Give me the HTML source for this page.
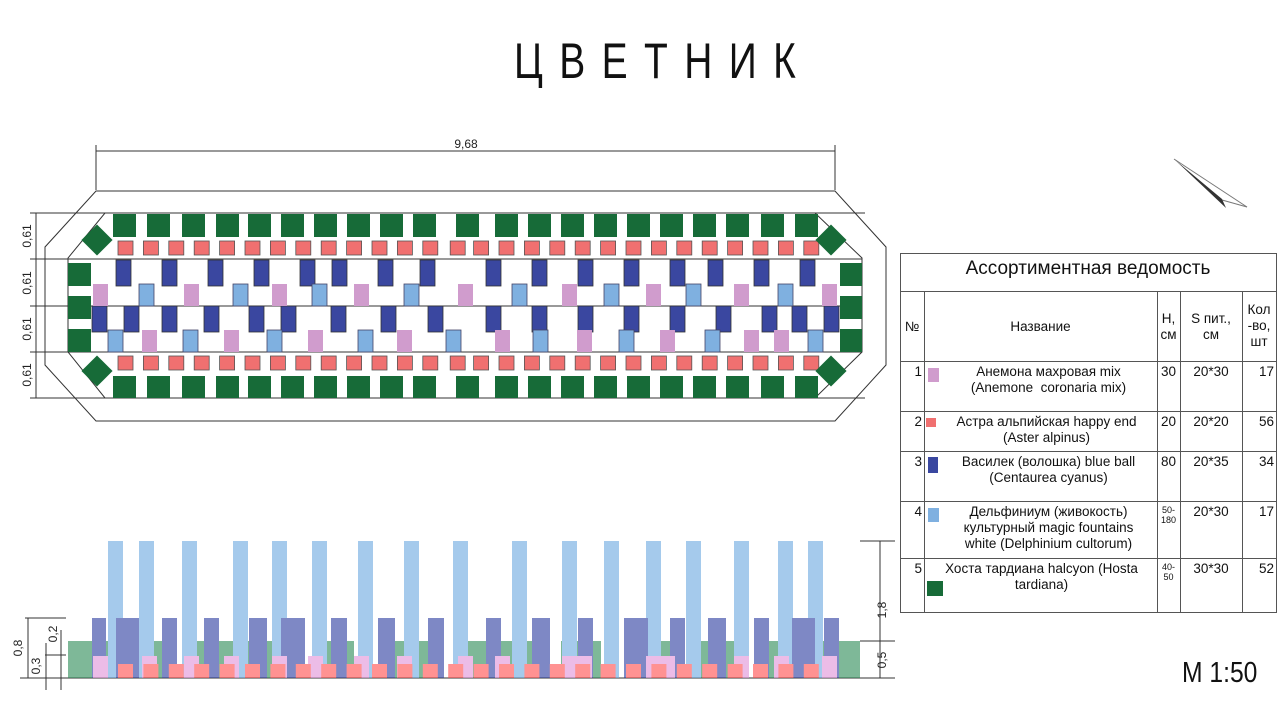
<!DOCTYPE html>
<html><head><meta charset="utf-8"><style>
body{margin:0;width:1280px;height:720px;background:#fff;overflow:hidden;font-family:"Liberation Sans",sans-serif;position:relative}
.t{position:absolute;font-family:"Liberation Sans","Noto Sans CJK SC",sans-serif;color:#111}
.c{position:absolute;font-size:13.5px;text-align:center;line-height:16px;color:#111}
</style></head><body>
<svg id="s" width="1280" height="720" style="position:absolute;left:0;top:0">
<g stroke="#333" stroke-width="1" fill="none">
<polygon points="96,191 835,191 886,247 886,365 835,421 96,421 45,365 45,247"/>
<polygon points="105,213 815,213 862,258 862,352 815,398 105,398 68,352 68,258"/>
<line x1="30" y1="213" x2="105" y2="213"/><line x1="30" y1="259" x2="862" y2="259"/>
<line x1="30" y1="306" x2="862" y2="306"/><line x1="30" y1="352" x2="862" y2="352"/>
<line x1="30" y1="398" x2="105" y2="398"/>
<line x1="815" y1="213" x2="865" y2="213"/><line x1="815" y1="398" x2="865" y2="398"/>
<line x1="36" y1="213" x2="36" y2="398"/>
<line x1="96" y1="151" x2="835" y2="151"/><line x1="96" y1="145" x2="96" y2="190"/><line x1="835" y1="145" x2="835" y2="190"/>
<line x1="860" y1="541" x2="895" y2="541"/><line x1="860" y1="641" x2="895" y2="641"/><line x1="860" y1="678" x2="895" y2="678"/>
<line x1="880" y1="541" x2="880" y2="678"/>
<line x1="25" y1="618" x2="66" y2="618"/><line x1="45" y1="655" x2="66" y2="655"/><line x1="20" y1="678" x2="895" y2="678"/>
<line x1="28" y1="618" x2="28" y2="678"/><line x1="46" y1="643" x2="46" y2="690"/><line x1="61" y1="630" x2="61" y2="690"/>
<line x1="1174" y1="159" x2="1247" y2="207" stroke="#777"/>
<line x1="1222" y1="200" x2="1247" y2="207" stroke="#777"/>
</g>
<polygon points="1174,159 1222,199 1226,208" fill="#333"/>
<g id="plan"></g><g id="elev" opacity="0.6"></g>
<g font-family="Liberation Sans" font-size="12" fill="#222">
<text x="466" y="148" text-anchor="middle">9,68</text>
<text transform="translate(31,236) rotate(-90)" text-anchor="middle">0,61</text>
<text transform="translate(31,283) rotate(-90)" text-anchor="middle">0,61</text>
<text transform="translate(31,329) rotate(-90)" text-anchor="middle">0,61</text>
<text transform="translate(31,375) rotate(-90)" text-anchor="middle">0,61</text>
<text transform="translate(22,648) rotate(-90)" text-anchor="middle">0,8</text>
<text transform="translate(40,666) rotate(-90)" text-anchor="middle">0,3</text>
<text transform="translate(57,634) rotate(-90)" text-anchor="middle">0,2</text>
<text transform="translate(886,610) rotate(-90)" text-anchor="middle">1,8</text>
<text transform="translate(886,660) rotate(-90)" text-anchor="middle">0,5</text>
</g>
</svg>
<div class="t" style="left:514px;top:32px;font-size:50px;letter-spacing:21px;font-weight:300;transform:scaleX(0.78);transform-origin:left">ЦВЕТНИК</div>
<div class="t" style="left:1182px;top:657px;font-size:29px;transform:scaleX(0.85);transform-origin:left">M 1:50</div>
<svg width="1280" height="720" style="position:absolute;left:0;top:0">
<g stroke="#555" stroke-width="1" fill="none">
<rect x="900.5" y="253.5" width="376" height="359"/>
<line x1="900" y1="291.5" x2="1276" y2="291.5"/><line x1="900" y1="361.5" x2="1276" y2="361.5"/>
<line x1="900" y1="411.5" x2="1276" y2="411.5"/><line x1="900" y1="451.5" x2="1276" y2="451.5"/>
<line x1="900" y1="501.5" x2="1276" y2="501.5"/><line x1="900" y1="558.5" x2="1276" y2="558.5"/>
<line x1="924.5" y1="291" x2="924.5" y2="612"/><line x1="1157.5" y1="291" x2="1157.5" y2="612"/>
<line x1="1180.5" y1="291" x2="1180.5" y2="612"/><line x1="1242.5" y1="291" x2="1242.5" y2="612"/>
</g>
<rect x="928" y="368" width="11" height="14" fill="#d09ccd"/>
<rect x="926" y="418" width="10" height="9" fill="#f07070"/>
<rect x="928" y="457" width="10" height="16" fill="#3a47a0"/>
<rect x="928" y="508" width="11" height="14" fill="#7fb0e0"/>
<rect x="927" y="581" width="16" height="15" fill="#176b38"/>
</svg>
<div class="c" style="left:900px;top:261px;width:376px;font-size:19px">Ассортиментная ведомость</div>
<div class="c" style="left:900px;top:319px;width:24px">№</div>
<div class="c" style="left:924px;top:319px;width:233px">Название</div>
<div class="c" style="left:1157px;top:311px;width:23px">Н,<br>см</div>
<div class="c" style="left:1180px;top:311px;width:62px">S пит.,<br>см</div>
<div class="c" style="left:1242px;top:302px;width:34px">Кол<br>-во,<br>шт</div>
<div class="c" style="left:900px;top:364px;width:22px;text-align:right">1</div>
<div class="c" style="left:938px;top:364px;width:221px">Анемона махровая mix<br>(Anemone&nbsp; coronaria mix)</div>
<div class="c" style="left:1157px;top:364px;width:23px">30</div><div class="c" style="left:1180px;top:364px;width:62px">20*30</div><div class="c" style="left:1242px;top:364px;width:32px;text-align:right">17</div>
<div class="c" style="left:900px;top:414px;width:22px;text-align:right">2</div>
<div class="c" style="left:936px;top:414px;width:221px">Астра альпийская happy end<br>(Aster alpinus)</div>
<div class="c" style="left:1157px;top:414px;width:23px">20</div><div class="c" style="left:1180px;top:414px;width:62px">20*20</div><div class="c" style="left:1242px;top:414px;width:32px;text-align:right">56</div>
<div class="c" style="left:938px;top:454px;width:221px">Василек (волошка) blue ball<br>(Centaurea cyanus)</div>
<div class="c" style="left:900px;top:454px;width:22px;text-align:right">3</div>
<div class="c" style="left:1157px;top:454px;width:23px">80</div><div class="c" style="left:1180px;top:454px;width:62px">20*35</div><div class="c" style="left:1242px;top:454px;width:32px;text-align:right">34</div>
<div class="c" style="left:900px;top:504px;width:22px;text-align:right">4</div>
<div class="c" style="left:938px;top:504px;width:221px">Дельфиниум (живокость)<br>культурный magic fountains<br>white (Delphinium cultorum)</div>
<div class="c" style="left:1157px;top:505px;width:23px;font-size:9px;line-height:10px">50-<br>180</div><div class="c" style="left:1180px;top:504px;width:62px">20*30</div><div class="c" style="left:1242px;top:504px;width:32px;text-align:right">17</div>
<div class="c" style="left:900px;top:561px;width:22px;text-align:right">5</div>
<div class="c" style="left:926px;top:561px;width:231px">Хоста тардиана halcyon (Hosta<br>tardiana)</div>
<div class="c" style="left:1157px;top:562px;width:23px;font-size:9px;line-height:10px">40-<br>50</div><div class="c" style="left:1180px;top:561px;width:62px">30*30</div><div class="c" style="left:1242px;top:561px;width:32px;text-align:right">52</div>
<script>
const NS="http://www.w3.org/2000/svg";
function R(g,x,y,w,h,f,st,extra){const r=document.createElementNS(NS,"rect");r.setAttribute("x",x);r.setAttribute("y",y);r.setAttribute("width",w);r.setAttribute("height",h);r.setAttribute("fill",f);if(st){r.setAttribute("stroke",st);r.setAttribute("stroke-width","0.8");}if(extra)r.setAttribute("transform",extra);g.appendChild(r);}
const P=document.getElementById("plan"),E=document.getElementById("elev");
const G="#176b38",RD="#f07070",DB="#3a47a0",LB="#7fb0e0",PK="#d09ccd";
const gx=[113,147,182,216,248,281,314,347,380,413,456,495,528,561,594,627,660,693,726,761,795];
gx.forEach(x=>{R(P,x,214,23,23,G);R(P,x,376,23,22,G);});
for(let i=0;i<28;i++){let x=118+i*25.4;if(i==13)x+=2;R(P,x,241,15,14,RD,"#555");R(P,x,356,15,14,RD,"#555");}
[263,296,329].forEach(y=>{R(P,68,y,23,23,G);R(P,840,y,22,23,G);});
[[97,240],[831,240],[97,371],[831,371]].forEach(([cx,cy])=>R(P,cx-11,cy-11,22,22,G,null,`rotate(45 ${cx} ${cy})`));
const db1=[116,162,208,254,300,332,378,420,486,532,578,624,670,708,754,800];
db1.forEach(x=>{R(P,x,260,15,26,DB,"#333");});
const db2=[92,124,162,204,249,281,331,381,428,486,532,578,624,670,716,762,792,824];
db2.forEach(x=>{R(P,x,306,15,26,DB,"#333");});
const r1=[[93,PK],[139,LB],[184,PK],[233,LB],[272,PK],[312,LB],[354,PK],[404,LB],[458,PK],[512,LB],[562,PK],[604,LB],[646,PK],[686,LB],[734,PK],[778,LB],[822,PK]];
r1.forEach(([x,c])=>R(P,x,284,15,22,c,c==LB?"#446":null));
const r2=[[108,LB],[142,PK],[183,LB],[224,PK],[267,LB],[308,PK],[358,LB],[397,PK],[446,LB],[495,PK],[533,LB],[577,PK],[619,LB],[660,PK],[705,LB],[744,PK],[774,PK],[808,LB]];
r2.forEach(([x,c])=>R(P,x,330,15,22,c,c==LB?"#446":null));
const gband=[[68,48],[148,24],[182,56],[216,24],[248,46],[314,40],[380,56],[456,36],[495,46],[561,40],[627,56],[693,46],[761,40],[795,65]];
gband.forEach(([x,w])=>R(E,x,641,w,37,"#2a8a55"));
[108,139,182,233,272,312,358,404,453,512,562,604,646,686,734,778,808].forEach(x=>R(E,x,541,15,137,"#6aa8e0"));
[[92,14],[116,23],[162,15],[204,15],[249,18],[281,24],[331,16],[378,17],[428,16],[486,15],[532,18],[578,15],[624,24],[670,15],[708,18],[754,15],[792,23],[824,15]].forEach(([x,w])=>R(E,x,618,w,60,"#2a3aa0"));
[93,142,184,224,272,308,354,397,458,495,562,577,646,660,734,774,822].forEach(x=>R(E,x,656,15,22,"#e090d8"));
for(let i=0;i<28;i++){R(E,118+i*25.4,664,15,14,"#ff4a4a");}
</script>
</body></html>
